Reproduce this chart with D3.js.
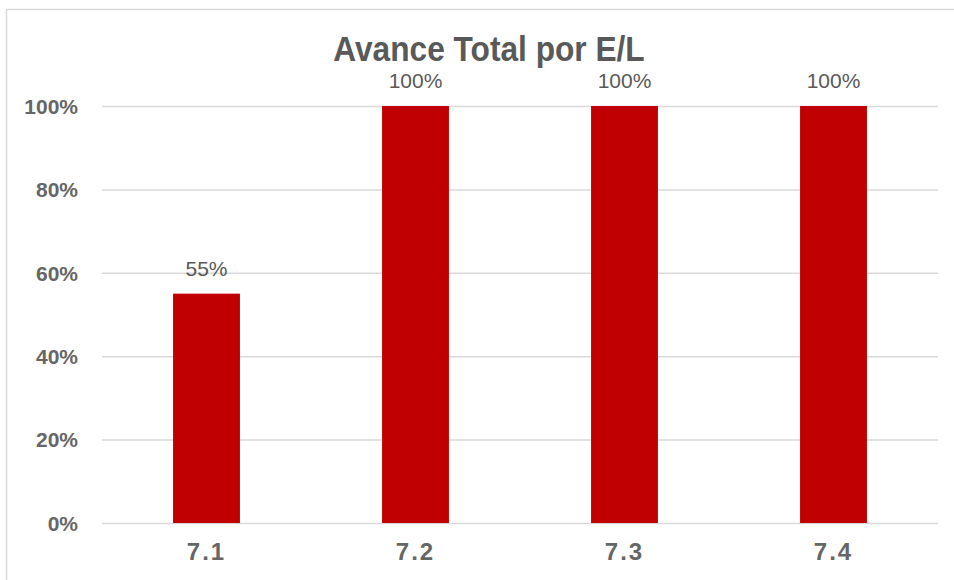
<!DOCTYPE html>
<html>
<head>
<meta charset="utf-8">
<script src="https://cdn.jsdelivr.net/npm/d3@7"></script>
<style>
  html, body { margin: 0; padding: 0; background: #fff; }
  svg { display: block; }
</style>
</head>
<body>
<script>
// Avance total por E/L — column chart
const categories = ["7.1", "7.2", "7.3", "7.4"];
const avance = [55, 100, 100, 100];
const yTicks = [0, 20, 40, 60, 80, 100];
const titleText = "Avance Total por E/L";

const W = 954, H = 580;
const margin = { left: 102, right: 16, top: 106, bottom: 57 };

const svg = d3.select("body").append("svg")
  .attr("width", W).attr("height", H);

// chart frame (only top and left edges fall inside the view)
svg.append("rect")
  .attr("x", 6.5).attr("y", 9.5)
  .attr("width", W + 20).attr("height", H + 20)
  .attr("fill", "#fff")
  .attr("stroke", "#d9d9d9").attr("stroke-width", 1.5);

const x = d3.scaleBand()
  .domain(categories)
  .range([margin.left, W - margin.right])
  .paddingInner(0.68).paddingOuter(0.34);

const y = d3.scaleLinear()
  .domain([0, 100])
  .range([H - margin.bottom, margin.top]);

const font = "'Liberation Sans', Arial, sans-serif";

// gridlines and y labels
const yAxis = d3.axisLeft(y)
  .tickValues(yTicks)
  .tickSize(-(W - margin.right - margin.left))
  .tickPadding(24)
  .tickFormat(d => d + "%");

const gy = svg.append("g")
  .attr("transform", `translate(${margin.left},0)`)
  .call(yAxis);
gy.select(".domain").remove();
gy.selectAll(".tick line")
  .attr("stroke", "#d9d9d9").attr("stroke-width", 1.5);
gy.selectAll(".tick text")
  .attr("fill", "#666666")
  .attr("font-family", font)
  .attr("font-size", 21)
  .attr("font-weight", "bold")
  .attr("dy", "0.35em");

// bars
svg.append("g").selectAll("rect")
  .data(avance)
  .join("rect")
  .attr("x", (d, i) => x(categories[i]))
  .attr("y", d => y(d))
  .attr("width", x.bandwidth())
  .attr("height", d => y(0) - y(d))
  .attr("fill", "#c00000");

// value labels
svg.append("g").selectAll("text")
  .data(avance)
  .join("text")
  .attr("x", (d, i) => x(categories[i]) + x.bandwidth() / 2)
  .attr("y", d => y(d) - 18)
  .attr("text-anchor", "middle")
  .attr("font-family", font)
  .attr("font-size", 21)
  .attr("fill", "#595959")
  .text(d => d + "%");

// x axis labels
const xAxis = d3.axisBottom(x).tickSize(0).tickPadding(20);
const gx = svg.append("g")
  .attr("transform", `translate(0,${H - margin.bottom})`)
  .call(xAxis);
gx.select(".domain").remove();
gx.selectAll(".tick text")
  .attr("fill", "#666666")
  .attr("font-family", font)
  .attr("font-size", 24)
  .attr("font-weight", "bold")
  .attr("letter-spacing", 2)
  .attr("dy", "0.71em");

// title, horizontally condensed
svg.append("text")
  .attr("transform", "translate(489,61) scale(0.88,1)")
  .attr("text-anchor", "middle")
  .attr("font-family", font)
  .attr("font-size", 36)
  .attr("font-weight", "bold")
  .attr("fill", "#595959")
  .text(titleText);
</script>
</body>
</html>
